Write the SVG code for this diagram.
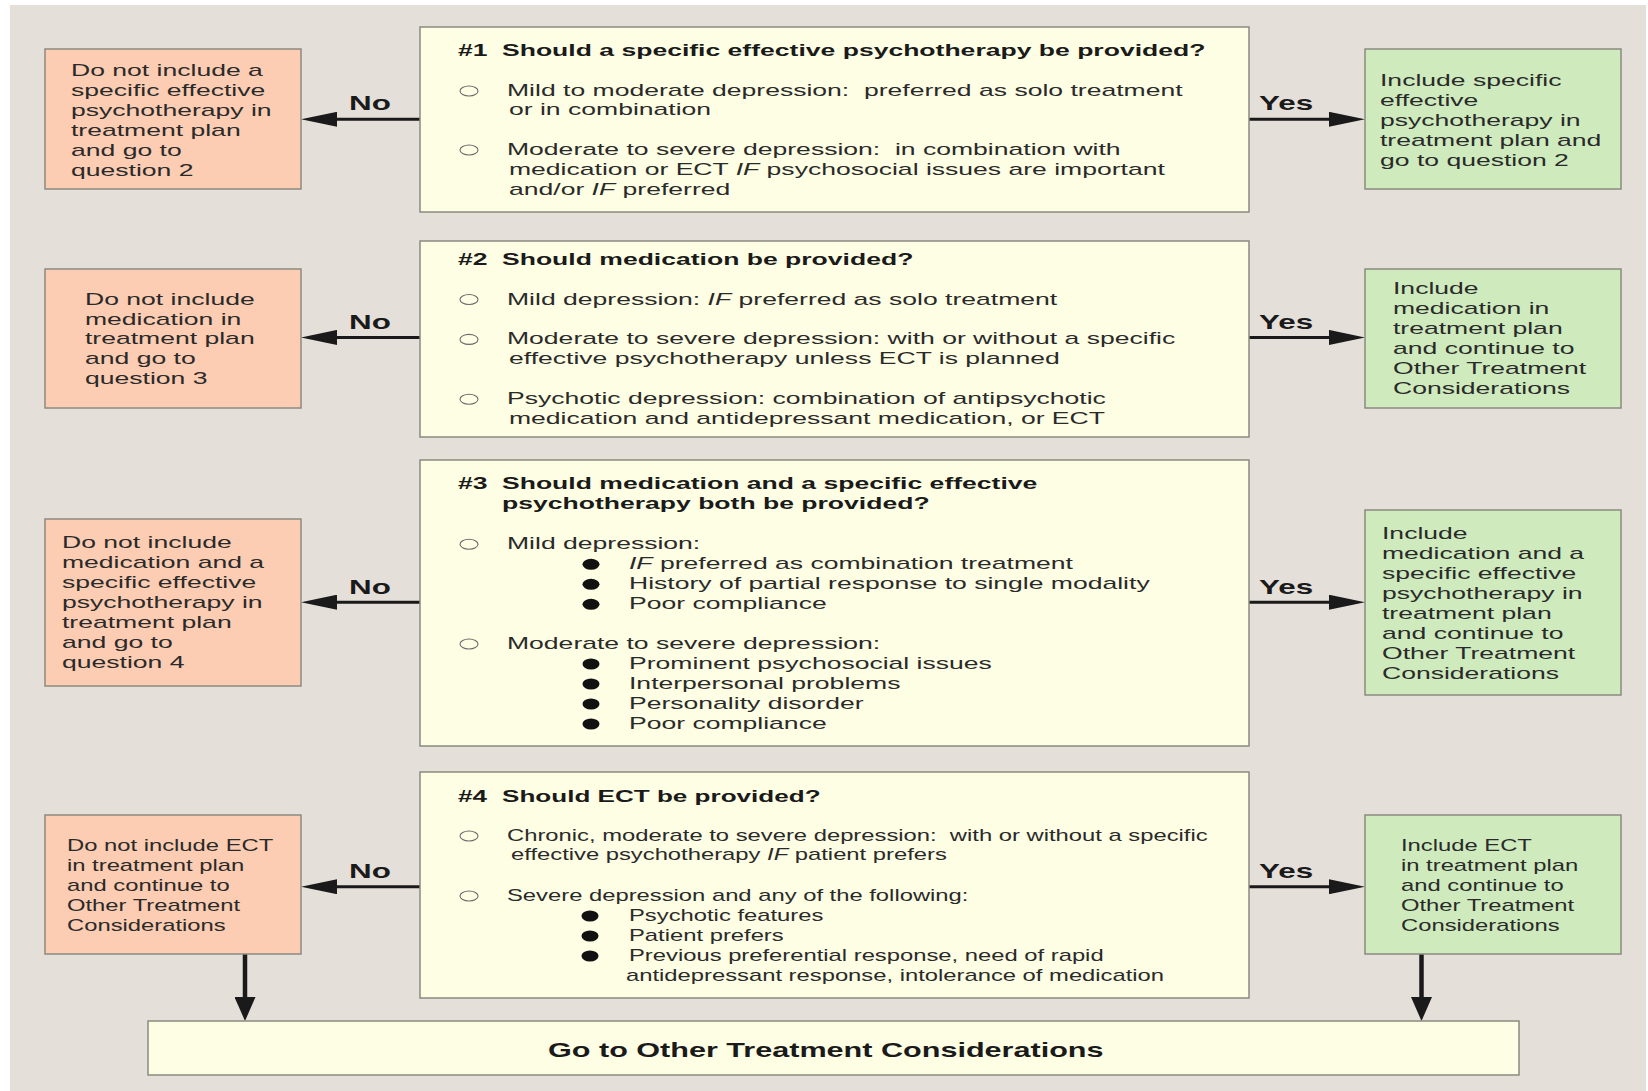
<svg xmlns="http://www.w3.org/2000/svg" width="1648" height="1091" viewBox="0 0 1648 1091">
<style>
text { white-space: pre; font-family: "Liberation Sans", Arial, sans-serif; }
.t { font-size: 16px; fill: #2a2a2a; }
.h { font-size: 16px; font-weight: bold; fill: #1a1a1a; }
.lab { font-size: 20px; font-weight: bold; fill: #1a1a1a; }
.big { font-size: 20px; font-weight: bold; fill: #1a1a1a; }
.q { fill: #fefee4; stroke: #8a8a80; stroke-width: 1.5; }
.no { fill: #fccdb2; stroke: #8a8a80; stroke-width: 1.5; }
.yes { fill: #cfebbe; stroke: #8a8a80; stroke-width: 1.5; }
.oc { fill: none; stroke: #6a6a6a; stroke-width: 1.1; }
.fb { fill: #111; }
.ah { fill: none; stroke: #1a1a1a; stroke-width: 3; marker-end: url(#mh); }
.av { fill: none; stroke: #1a1a1a; stroke-width: 4.5; marker-end: url(#mv); }
</style>
<defs>
<marker id="mh" markerUnits="userSpaceOnUse" markerWidth="36" markerHeight="15" refX="16" refY="7.5" orient="auto"><path d="M0,0 L36,7.5 L0,15 Z" fill="#1a1a1a"/></marker>
<marker id="mv" markerUnits="userSpaceOnUse" markerWidth="24" markerHeight="21" refX="12" refY="10.5" orient="auto"><path d="M0,0 L24,10.5 L0,21 Z" fill="#1a1a1a"/></marker>
</defs>
<rect x="0" y="0" width="1648" height="1091" fill="#ffffff"/>
<rect x="10" y="5" width="1636" height="1086" fill="#e5dfda"/>

<g id="connectors">
<path class="ah" d="M420,119.3 H321"/>
<path class="ah" d="M1249,119.3 H1345"/>
<path class="ah" d="M420,337.4 H321"/>
<path class="ah" d="M1249,337.4 H1345"/>
<path class="ah" d="M420,602.2 H321"/>
<path class="ah" d="M1249,602.2 H1345"/>
<path class="ah" d="M420,886.7 H321"/>
<path class="ah" d="M1249,886.7 H1345"/>
<path class="av" d="M245,954 V1009"/>
<path class="av" d="M1421.5,954 V1009"/>
<text class="lab" transform="translate(349,110) scale(1.57,1)">No</text>
<text class="lab" transform="translate(1259,110) scale(1.57,1)">Yes</text>
<text class="lab" transform="translate(349,328.5) scale(1.57,1)">No</text>
<text class="lab" transform="translate(1259,328.5) scale(1.57,1)">Yes</text>
<text class="lab" transform="translate(349,593.5) scale(1.57,1)">No</text>
<text class="lab" transform="translate(1259,593.5) scale(1.57,1)">Yes</text>
<text class="lab" transform="translate(349,878) scale(1.57,1)">No</text>
<text class="lab" transform="translate(1259,878) scale(1.57,1)">Yes</text>
</g>

<g id="q1">
<rect class="q" x="420" y="27" width="829" height="185"/>
<text class="h" transform="translate(458,56) scale(1.66,1)">#1</text>
<text class="h" transform="translate(502,56) scale(1.66,1)">Should a specific effective psychotherapy be provided?</text>
<ellipse class="oc" cx="469" cy="91" rx="9" ry="5"/>
<text class="t" transform="translate(507,96) scale(1.66,1)">Mild to moderate depression:  preferred as solo treatment</text>
<text class="t" transform="translate(509,115) scale(1.66,1)">or in combination</text>
<ellipse class="oc" cx="469" cy="150" rx="9" ry="5"/>
<text class="t" transform="translate(507,155) scale(1.66,1)">Moderate to severe depression:  in combination with</text>
<text class="t" transform="translate(509,175) scale(1.66,1)">medication or ECT <tspan font-style="italic">IF</tspan> psychosocial issues are important</text>
<text class="t" transform="translate(509,195) scale(1.66,1)">and/or <tspan font-style="italic">IF</tspan> preferred</text>
</g>

<g id="q2">
<rect class="q" x="420" y="241" width="829" height="196"/>
<text class="h" transform="translate(458,264.5) scale(1.66,1)">#2</text>
<text class="h" transform="translate(502,264.5) scale(1.66,1)">Should medication be provided?</text>
<ellipse class="oc" cx="469" cy="299.5" rx="9" ry="5"/>
<text class="t" transform="translate(507,304.5) scale(1.66,1)">Mild depression: <tspan font-style="italic">IF</tspan> preferred as solo treatment</text>
<ellipse class="oc" cx="469" cy="339.4" rx="9" ry="5"/>
<text class="t" transform="translate(507,344.4) scale(1.66,1)">Moderate to severe depression: with or without a specific</text>
<text class="t" transform="translate(509,364.4) scale(1.66,1)">effective psychotherapy unless ECT is planned</text>
<ellipse class="oc" cx="469" cy="399.3" rx="9" ry="5"/>
<text class="t" transform="translate(507,404.3) scale(1.66,1)">Psychotic depression: combination of antipsychotic</text>
<text class="t" transform="translate(509,424.3) scale(1.66,1)">medication and antidepressant medication, or ECT</text>
</g>

<g id="q3">
<rect class="q" x="420" y="460" width="829" height="286"/>
<text class="h" transform="translate(458,489.3) scale(1.66,1)">#3</text>
<text class="h" transform="translate(502,489.3) scale(1.66,1)">Should medication and a specific effective</text>
<text class="h" transform="translate(502,509.3) scale(1.66,1)">psychotherapy both be provided?</text>
<ellipse class="oc" cx="469" cy="544.3" rx="9" ry="5"/>
<text class="t" transform="translate(507,549.3) scale(1.66,1)">Mild depression:</text>
<ellipse class="fb" cx="591" cy="564.3" rx="8.5" ry="5.5"/>
<text class="t" transform="translate(629,569.3) scale(1.66,1)"><tspan font-style="italic">IF</tspan> preferred as combination treatment</text>
<ellipse class="fb" cx="591" cy="584.3" rx="8.5" ry="5.5"/>
<text class="t" transform="translate(629,589.3) scale(1.66,1)">History of partial response to single modality</text>
<ellipse class="fb" cx="591" cy="604.3" rx="8.5" ry="5.5"/>
<text class="t" transform="translate(629,609.3) scale(1.66,1)">Poor compliance</text>
<ellipse class="oc" cx="469" cy="644" rx="9" ry="5"/>
<text class="t" transform="translate(507,649) scale(1.66,1)">Moderate to severe depression:</text>
<ellipse class="fb" cx="591" cy="664" rx="8.5" ry="5.5"/>
<text class="t" transform="translate(629,669) scale(1.66,1)">Prominent psychosocial issues</text>
<ellipse class="fb" cx="591" cy="684" rx="8.5" ry="5.5"/>
<text class="t" transform="translate(629,689) scale(1.66,1)">Interpersonal problems</text>
<ellipse class="fb" cx="591" cy="704" rx="8.5" ry="5.5"/>
<text class="t" transform="translate(629,709) scale(1.66,1)">Personality disorder</text>
<ellipse class="fb" cx="591" cy="724" rx="8.5" ry="5.5"/>
<text class="t" transform="translate(629,729) scale(1.66,1)">Poor compliance</text>
</g>

<g id="q4">
<rect class="q" x="420" y="772" width="829" height="226"/>
<text class="h" transform="translate(458,801.7) scale(1.63,1)">#4</text>
<text class="h" transform="translate(502,801.7) scale(1.63,1)">Should ECT be provided?</text>
<ellipse class="oc" cx="469" cy="836" rx="9" ry="5"/>
<text class="t" transform="translate(507,841) scale(1.487,1)">Chronic, moderate to severe depression:  with or without a specific</text>
<text class="t" transform="translate(511,860) scale(1.487,1)">effective psychotherapy <tspan font-style="italic">IF</tspan> patient prefers</text>
<ellipse class="oc" cx="469" cy="896" rx="9" ry="5"/>
<text class="t" transform="translate(507,901) scale(1.487,1)">Severe depression and any of the following:</text>
<ellipse class="fb" cx="590" cy="916" rx="8.5" ry="5.5"/>
<text class="t" transform="translate(629,921) scale(1.487,1)">Psychotic features</text>
<ellipse class="fb" cx="590" cy="936" rx="8.5" ry="5.5"/>
<text class="t" transform="translate(629,941) scale(1.487,1)">Patient prefers</text>
<ellipse class="fb" cx="590" cy="956" rx="8.5" ry="5.5"/>
<text class="t" transform="translate(629,961) scale(1.487,1)">Previous preferential response, need of rapid</text>
<text class="t" transform="translate(626,981) scale(1.487,1)">antidepressant response, intolerance of medication</text>
</g>

<g id="no1">
<rect class="no" x="45" y="49" width="256" height="140"/>
<text class="t" transform="translate(71,76) scale(1.66,1)">Do not include a</text>
<text class="t" transform="translate(71,96) scale(1.66,1)">specific effective</text>
<text class="t" transform="translate(71,116) scale(1.66,1)">psychotherapy in</text>
<text class="t" transform="translate(71,136) scale(1.66,1)">treatment plan</text>
<text class="t" transform="translate(71,156) scale(1.66,1)">and go to</text>
<text class="t" transform="translate(71,176) scale(1.66,1)">question 2</text>
</g>

<g id="no2">
<rect class="no" x="45" y="269" width="256" height="139"/>
<text class="t" transform="translate(85,304.5) scale(1.66,1)">Do not include</text>
<text class="t" transform="translate(85,324.5) scale(1.66,1)">medication in</text>
<text class="t" transform="translate(85,344.4) scale(1.66,1)">treatment plan</text>
<text class="t" transform="translate(85,364.4) scale(1.66,1)">and go to</text>
<text class="t" transform="translate(85,384.4) scale(1.66,1)">question 3</text>
</g>

<g id="no3">
<rect class="no" x="45" y="519" width="256" height="167"/>
<text class="t" transform="translate(62,548.3) scale(1.66,1)">Do not include</text>
<text class="t" transform="translate(62,568.3) scale(1.66,1)">medication and a</text>
<text class="t" transform="translate(62,588.3) scale(1.66,1)">specific effective</text>
<text class="t" transform="translate(62,608.2) scale(1.66,1)">psychotherapy in</text>
<text class="t" transform="translate(62,628.2) scale(1.66,1)">treatment plan</text>
<text class="t" transform="translate(62,648.2) scale(1.66,1)">and go to</text>
<text class="t" transform="translate(62,668.1) scale(1.66,1)">question 4</text>
</g>

<g id="no4">
<rect class="no" x="45" y="815" width="256" height="139"/>
<text class="t" transform="translate(67,851) scale(1.487,1)">Do not include ECT</text>
<text class="t" transform="translate(67,871) scale(1.487,1)">in treatment plan</text>
<text class="t" transform="translate(67,891) scale(1.487,1)">and continue to</text>
<text class="t" transform="translate(67,910.7) scale(1.487,1)">Other Treatment</text>
<text class="t" transform="translate(67,930.7) scale(1.487,1)">Considerations</text>
</g>

<g id="yes1">
<rect class="yes" x="1365" y="49" width="256" height="140"/>
<text class="t" transform="translate(1380,86) scale(1.66,1)">Include specific</text>
<text class="t" transform="translate(1380,106) scale(1.66,1)">effective</text>
<text class="t" transform="translate(1380,126) scale(1.66,1)">psychotherapy in</text>
<text class="t" transform="translate(1380,146) scale(1.66,1)">treatment plan and</text>
<text class="t" transform="translate(1380,166) scale(1.66,1)">go to question 2</text>
</g>

<g id="yes2">
<rect class="yes" x="1365" y="269" width="256" height="139"/>
<text class="t" transform="translate(1393,294) scale(1.66,1)">Include</text>
<text class="t" transform="translate(1393,314) scale(1.66,1)">medication in</text>
<text class="t" transform="translate(1393,334) scale(1.66,1)">treatment plan</text>
<text class="t" transform="translate(1393,354) scale(1.66,1)">and continue to</text>
<text class="t" transform="translate(1393,374) scale(1.66,1)">Other Treatment</text>
<text class="t" transform="translate(1393,394) scale(1.66,1)">Considerations</text>
</g>

<g id="yes3">
<rect class="yes" x="1365" y="510" width="256" height="185"/>
<text class="t" transform="translate(1382,539) scale(1.66,1)">Include</text>
<text class="t" transform="translate(1382,559) scale(1.66,1)">medication and a</text>
<text class="t" transform="translate(1382,579) scale(1.66,1)">specific effective</text>
<text class="t" transform="translate(1382,599) scale(1.66,1)">psychotherapy in</text>
<text class="t" transform="translate(1382,619) scale(1.66,1)">treatment plan</text>
<text class="t" transform="translate(1382,639) scale(1.66,1)">and continue to</text>
<text class="t" transform="translate(1382,659) scale(1.66,1)">Other Treatment</text>
<text class="t" transform="translate(1382,679) scale(1.66,1)">Considerations</text>
</g>

<g id="yes4">
<rect class="yes" x="1365" y="815" width="256" height="139"/>
<text class="t" transform="translate(1401,851) scale(1.487,1)">Include ECT</text>
<text class="t" transform="translate(1401,871) scale(1.487,1)">in treatment plan</text>
<text class="t" transform="translate(1401,891) scale(1.487,1)">and continue to</text>
<text class="t" transform="translate(1401,910.7) scale(1.487,1)">Other Treatment</text>
<text class="t" transform="translate(1401,930.7) scale(1.487,1)">Considerations</text>
</g>

<g id="other">
<rect class="q" x="148" y="1021" width="1371" height="54"/>
<text class="big" transform="translate(548,1057) scale(1.53,1)">Go to Other Treatment Considerations</text>
</g>
</svg>
